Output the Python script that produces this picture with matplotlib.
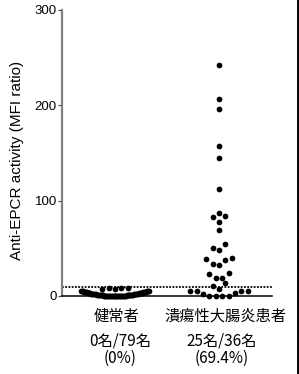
import matplotlib
matplotlib.use("Agg")
import matplotlib.pyplot as plt
from matplotlib.lines import Line2D
import numpy as np

# data
groups = ["健常者", "潰瘍性大腸炎患者"]
counts = ["0名/79名", "25名/36名"]
percents = ["(0%)", "(69.4%)"]

healthy_high = [7.8, 8.3, 7.5, 8.1, 7.9]
healthy_low = [0.0, 0.0, 0.0, 0.0, 0.0, 0.0, 0.0, 0.1, 0.1, 0.1,
               0.1, 0.2, 0.2, 0.2, 0.2, 0.3, 0.3, 0.3, 0.3, 0.4,
               0.4, 0.4, 0.5, 0.5, 0.6, 0.6, 0.7, 0.7, 0.8, 0.8,
               0.9, 0.9, 1.1, 1.1, 1.2, 1.2, 1.3, 1.4, 1.5, 1.5,
               1.7, 1.7, 1.8, 1.9, 2.0, 2.1, 2.2, 2.3, 2.4, 2.5,
               2.6, 2.7, 2.8, 2.9, 3.1, 3.1, 3.3, 3.4, 3.5, 3.6,
               3.8, 3.9, 4.0, 4.1, 4.3, 4.4, 4.6, 4.7, 4.9, 5.0,
               5.2, 5.3, 5.5, 5.6]

uc = [242, 206.7, 196, 157.7, 145, 112, 84, 83, 87.5, 77.6,
      69, 55, 50, 48, 38.5, 40, 37.8, 34, 33, 22.7,
      24, 18.5, 19, 14, 10.5, 7.6, 5.5, 5, 1.8, 0,
      0, 0, 0, 3, 5, 5]

cutoff = 9.1

W, H = 299, 374
fig = plt.figure(figsize=(W / 100, H / 100), dpi=100)
ax = fig.add_axes([62 / W, (H - 296) / H, 210 / W, 286 / H])

xmin, xmax = -0.51, 1.51
ymin, ymax = 0, 300
px_x = 210 / (xmax - xmin)   # pixels per x unit


def row(vals, step):
    """one centred row, smallest values in the middle, then alternating"""
    n = len(vals)
    base = np.arange(n) - (n - 1) / 2
    lev = sorted(base, key=lambda v: (abs(v), v))
    offs = np.zeros(n)
    offs[np.argsort(vals, kind="stable")] = np.array(lev) * step
    return offs


def rows(vals, band, step):
    """group sorted values into rows (like prism scatter) and spread each row"""
    order = np.argsort(vals, kind="stable")
    offs = np.zeros(len(vals))
    grp = [order[0]]
    for i in order[1:]:
        if vals[i] - vals[grp[0]] <= band:
            grp.append(i)
        else:
            offs[grp] = row(vals[grp], step)
            grp = [i]
    offs[grp] = row(vals[grp], step)
    return offs


hv_low = np.array(healthy_low)
hv_high = np.array(healthy_high)
uv = np.array(uc)

h_low_x = 0 + row(hv_low, 0.93) / px_x
h_high_x = 0 + (np.arange(len(hv_high)) - (len(hv_high) - 1) / 2) * 6.3 / px_x
uc_x = 1 + rows(uv, 7, 6.4) / px_x

kw = dict(s=17, color="black", linewidths=0, clip_on=False, zorder=3)
ax.scatter(h_low_x, hv_low, **kw)
ax.scatter(h_high_x, hv_high, **kw)
ax.scatter(uc_x, uv, **kw)

ax.plot([xmin, xmax], [cutoff, cutoff], color="black", lw=1.3,
        linestyle=(0, (1, 0.8)), clip_on=False, zorder=2)

ax.set_xlim(xmin, xmax)
ax.set_ylim(ymin, ymax)
ax.set_xticks([])
ax.set_yticks([0, 100, 200, 300])
ax.tick_params(axis="y", length=3, width=0.8, pad=0.8, color="#404040",
               labelsize=9.5)
for t in ax.get_yticklabels():
    t.set_fontfamily("Liberation Sans")
ax.spines["top"].set_visible(False)
ax.spines["right"].set_visible(False)
ax.spines["left"].set_color("#808080")
ax.spines["left"].set_linewidth(1.6)
ax.spines["bottom"].set_linewidth(1.1)

ax.set_ylabel("Anti-EPCR activity (MFI ratio)", fontsize=11,
              fontfamily="Liberation Sans", va="center")
ax.yaxis.set_label_coords((17.5 - 62) / 210, (296 - 160.5) / 286)

tr = ax.get_xaxis_transform()
cjk = ["Noto Sans CJK JP", "DejaVu Sans"]
x1 = [0.01, 1.06]
x2 = [0.05, 1.03]
for i in range(2):
    ax.text(x1[i], -(316.5 - 296) / 286, groups[i], transform=tr, ha="center",
            va="center", fontsize=11, family=cjk)
    ax.text(x2[i], -(341 - 296) / 286, counts[i], transform=tr, ha="center",
            va="center", fontsize=11, family=cjk)
    ax.text(x2[i], -(358.5 - 296) / 286, percents[i], transform=tr, ha="center",
            va="center", fontsize=11, family=cjk)

fig.add_artist(Line2D([297.5 / W, 297.5 / W], [0, 1], transform=fig.transFigure,
                      color="black", lw=1.4))

fig.savefig("out.png", dpi=100)
